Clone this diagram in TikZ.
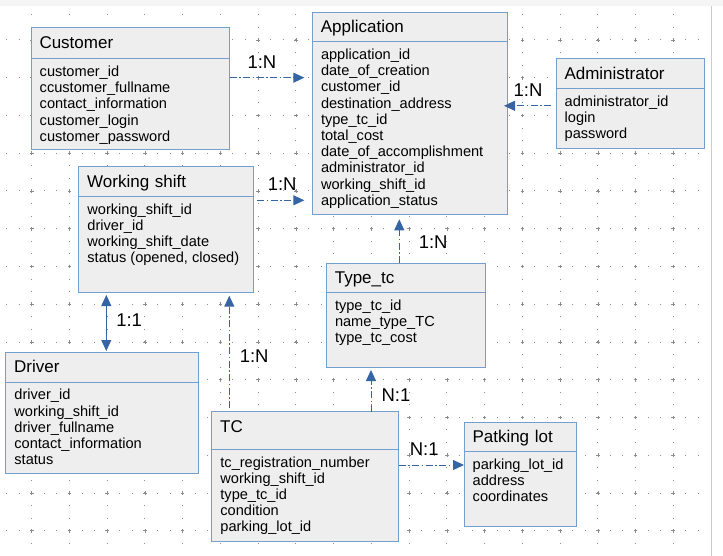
\documentclass[tikz,border=0pt]{standalone}
\usepackage{fontspec}
\setmainfont{Liberation Sans}
\usetikzlibrary{positioning,arrows.meta}

\definecolor{boxline}{HTML}{729FCF}
\definecolor{boxfill}{HTML}{EEEEEE}
\definecolor{relline}{HTML}{3465A4}
\definecolor{griddot}{HTML}{8C8C8C}

\begin{document}
\begin{tikzpicture}[
		x=1pt, y=-1pt,
		head/.style={rectangle, draw=boxline, fill=boxfill, line width=1pt, outer sep=0pt,
				inner xsep=8.5pt, inner ysep=0pt, anchor=north west, text width=#1,
				text height=20.6pt, text depth=9.2pt, align=left, font=\fontsize{17}{20}\selectfont},
		body/.style={rectangle, draw=boxline, fill=boxfill, line width=1pt, outer sep=0pt, anchor=north west},
		fields/.style={anchor=north west, inner xsep=8.5pt, inner ysep=6.2pt, align=left,
				font=\fontsize{14.6}{16.2}\selectfont},
		rel/.style={draw=relline, line width=1pt, dash pattern=on 7pt off 2.5pt on 1.5pt off 2.5pt,
				-{Triangle[length=11pt, width=10pt]}},
		card/.style={font=\fontsize{18.5}{20}\selectfont, inner sep=0pt, text height=13pt, text depth=0pt}
	]

	\useasboundingbox (0, 0) rectangle (723, 556);

	\def \gx {37.74}
	\def \gy {37.75}
	\def \gd {12.58}

	\fill[black!4] (0, 0) rectangle (723, 6);
	\draw[black!20, line width=1pt] (711.7, 6) -- (711.7, 556);

	\foreach \i in {0, ..., 13} {
			\foreach \j in {-2, ..., 53} {
					\fill[griddot] (31.7 + \j * \gd - 0.5, 40 + \i * \gy - 0.5) rectangle ++(1, 1);
				}
		}

	\foreach \k in {0, ..., 17} {
			\foreach \j in {-2, ..., 40} {
					\fill[griddot] (31.7 + \k * \gx - 0.5, 40 + \j * \gd - 0.5) rectangle ++(1, 1);
				}
		}

	\foreach \i in {0, ..., 13} {
			\foreach \k in {0, ..., 17} {
					\draw[griddot, line width=0.6pt] (31.7 + \k * \gx - 1.8, 40 + \i * \gy) -- ++(3.6, 0)
						(31.7 + \k * \gx, 40 + \i * \gy - 1.8) -- ++(0, 3.6);
				}
		}

	\node[head=181.7pt, text depth=10.4pt] (cust) at (31, 27.7) {Customer};
	\node[body, minimum width=198.7pt, minimum height=91.3pt] (cust-b) at (cust.south west) {};
	\node[fields] (cust-f) at (cust-b.north west) {\strut customer\_id\\ccustomer\_fullname\\contact\_information\\customer\_login\\customer\_password};

	\node[head=178.4pt, text depth=8.8pt] (app) at (312.3, 12.3) {Application};
	\node[body, minimum width=195.4pt, minimum height=172.6pt] (app-b) at (app.south west) {};
	\node[fields] (app-f) at (app-b.north west) {\strut application\_id\\date\_of\_creation\\customer\_id\\destination\_address\\type\_tc\_id\\total\_cost\\date\_of\_accomplishment\\administrator\_id\\working\_shift\_id\\application\_status};

	\node[head=131pt] (admin) at (556, 59) {Administrator};
	\node[body, minimum width=148pt, minimum height=59.3pt] (admin-b) at (admin.south west) {};
	\node[fields] (admin-f) at (admin-b.north west) {\strut administrator\_id\\login\\password};

	\node[head=157.6pt, text depth=9pt] (shift) at (78.7, 166.7) {Working shift};
	\node[body, minimum width=174.6pt, minimum height=96.4pt] (shift-b) at (shift.south west) {};
	\node[fields] (shift-f) at (shift-b.north west) {\strut working\_shift\_id\\driver\_id\\working\_shift\_date\\status (opened, closed)};

	\node[head=141.7pt, text depth=8.8pt] (type) at (326.3, 263.3) {Type\_tc};
	\node[body, minimum width=158.7pt, minimum height=74.6pt] (type-b) at (type.south west) {};
	\node[fields] (type-f) at (type-b.north west) {\strut type\_tc\_id\\name\_type\_TC\\type\_tc\_cost};

	\node[head=176pt] (drv) at (5.7, 352.3) {Driver};
	\node[body, minimum width=193pt, minimum height=91pt] (drv-b) at (drv.south west) {};
	\node[fields] (drv-f) at (drv-b.north west) {\strut driver\_id\\working\_shift\_id\\driver\_fullname\\contact\_information\\status};

	\node[head=170pt, text depth=17pt] (tc) at (211.7, 411.7) {TC};
	\node[body, minimum width=187pt, minimum height=91.7pt] (tc-b) at (tc.south west) {};
	\node[fields] (tc-f) at (tc-b.north west) {\strut tc\_registration\_number\\working\_shift\_id\\type\_tc\_id\\condition\\parking\_lot\_id};

	\node[head=95.3pt] (park) at (464, 422) {Patking lot};
	\node[body, minimum width=112.3pt, minimum height=74.6pt] (park-b) at (park.south west) {};
	\node[fields] (park-f) at (park-b.north west) {\strut parking\_lot\_id\\address\\coordinates};

	\draw[rel, shorten >=8pt] ([yshift=-19pt]cust-b.north east) coordinate (r1) -- (r1 -| app-b.west)
		node[card, pos=.39, above=9pt] {1:N};
	\draw[rel, shorten <=3.7pt, shorten >=8pt] ([yshift=-4pt]shift-b.north east) coordinate (r2) -- (r2 -| app-b.west)
		node[card, pos=.49, above=9pt] {1:N};
	\draw[rel, shorten <=5pt, shorten >=-3.7pt] ([yshift=-17pt]admin-b.north west) coordinate (r3) -- (r3 -| app-b.east)
		node[card, pos=.58, above=9pt] {1:N};
	\draw[rel, shorten >=5pt] ([xshift=73pt]type.north west) coordinate (r4) -- (r4 |- app-b.south)
		node[card, pos=.44, right=19pt] {1:N};
	\draw[draw=relline, line width=1pt, {Triangle[length=11pt, width=10pt]}-{Triangle[length=11pt, width=10pt]},
		shorten <=2.3pt, shorten >=1.3pt] ([xshift=27.6pt]shift-b.south west) coordinate (r5) -- (r5 |- drv.north)
		node[card, pos=.46, right=9.5pt] {1:1};
	\draw[rel, shorten <=3.5pt, shorten >=3pt] ([xshift=17.6pt]tc.north west) coordinate (r6) -- (r6 |- shift-b.south)
		node[card, pos=.47, right=10pt] {1:N};
	\draw[rel, shorten >=2.7pt] ([xshift=159.3pt]tc.north west) coordinate (r7) -- (r7 |- type-b.south)
		node[card, pos=.38, right=10pt] {N:1};
	\draw[rel] ([yshift=-15.7pt]tc-b.north east) coordinate (r8) -- (r8 -| park-b.west)
		node[card, pos=.39, above=9pt] {N:1};

\end{tikzpicture}
\end{document}
